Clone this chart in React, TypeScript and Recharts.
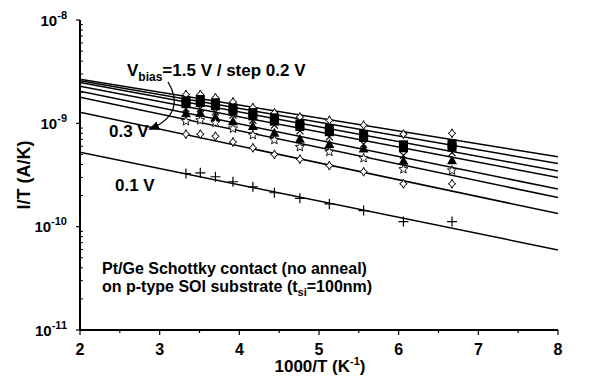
import React from 'react';
import { ComposedChart, Line, Scatter, XAxis, YAxis, Customized } from 'recharts';

// ---------- data ----------
const xTicks = [2, 2.5, 3, 3.5, 4, 4.5, 5, 5.5, 6, 6.5, 7, 7.5, 8];
const yTicks = [
  1e-11, 2e-11, 3e-11, 4e-11, 5e-11, 6e-11, 7e-11, 8e-11, 9e-11,
  1e-10, 2e-10, 3e-10, 4e-10, 5e-10, 6e-10, 7e-10, 8e-10, 9e-10,
  1e-9, 2e-9, 3e-9, 4e-9, 5e-9, 6e-9, 7e-9, 8e-9, 9e-9, 1e-8,
];
const invT = [3.33, 3.51, 3.7, 3.92, 4.17, 4.44, 4.76, 5.13, 5.56, 6.06, 6.67];

const v15 = [1.9e-9, 1.9e-9, 1.77e-9, 1.61e-9, 1.42e-9, 1.26e-9, 1.15e-9, 1.07e-9, 9.6e-10, 7.85e-10, 8.0e-10];
const v13 = [1.65e-9, 1.7e-9, 1.58e-9, 1.41e-9, 1.27e-9, 1.13e-9, 9.9e-10, 8.9e-10, 7.8e-10, 6.2e-10, 6.35e-10];
const v11 = [1.55e-9, 1.59e-9, 1.48e-9, 1.32e-9, 1.18e-9, 1.05e-9, 9.3e-10, 8.3e-10, 7.3e-10, 5.8e-10, 5.9e-10];
const v09 = [1.39e-9, 1.39e-9, 1.29e-9, 1.2e-9, 1.07e-9, 9.6e-10, 8.45e-10, 7.4e-10, 6.3e-10, 4.9e-10, 5.2e-10];
const v07 = [1.25e-9, 1.26e-9, 1.15e-9, 1.05e-9, 9.4e-10, 8.1e-10, 7.1e-10, 6.3e-10, 5.7e-10, 4.35e-10, 4.4e-10];
const v05 = [1.05e-9, 1.07e-9, 1.01e-9, 8.9e-10, 7.7e-10, 6.9e-10, 5.9e-10, 5.3e-10, 4.6e-10, 3.6e-10, 3.5e-10];
const v03 = [7.85e-10, 7.85e-10, 7.5e-10, 6.6e-10, 5.8e-10, 5.0e-10, 4.5e-10, 3.9e-10, 3.4e-10, 2.6e-10, 2.6e-10];
const v01 = [3.27e-10, 3.32e-10, 3.04e-10, 2.72e-10, 2.43e-10, 2.13e-10, 1.88e-10, 1.66e-10, 1.43e-10, 1.12e-10, 1.12e-10];

const fitX = [2, 8];
const fit15 = [2.67e-9, 4.74e-10];
const fit13 = [2.58e-9, 4.08e-10];
const fit11 = [2.49e-9, 3.45e-10];
const fit09 = [2.28e-9, 2.99e-10];
const fit07 = [2.04e-9, 2.31e-10];
const fit05 = [1.79e-9, 1.91e-10];
const fit03 = [1.28e-9, 1.34e-10];
const fit01 = [5.26e-10, 5.96e-11];

const seriesList = [
  { name: '1.5 V', pts: v15, fit: fit15, shape: 'diamond' },
  { name: '1.3 V', pts: v13, fit: fit13, shape: 'square' },
  { name: '1.1 V', pts: v11, fit: fit11, shape: 'square' },
  { name: '0.9 V', pts: v09, fit: fit09, shape: 'x' },
  { name: '0.7 V', pts: v07, fit: fit07, shape: 'triangle' },
  { name: '0.5 V', pts: v05, fit: fit05, shape: 'star' },
  { name: '0.3 V', pts: v03, fit: fit03, shape: 'diamond' },
  { name: '0.1 V', pts: v01, fit: fit01, shape: 'plus' },
];

// ---------- layout ----------
const W = 595;
const H = 380;
const FONT = '"Liberation Sans", Arial, Helvetica, sans-serif';

const isDecade = (v: number) => {
  const l = Math.log10(v);
  return Math.abs(l - Math.round(l)) < 1e-6;
};
const isInt = (v: number) => Math.abs(v - Math.round(v)) < 1e-6;

const Marker = (kind: string) => (p: any) => {
  const { cx, cy } = p;
  if (cx == null || cy == null) return <g />;
  switch (kind) {
    case 'diamond':
      return (
        <path
          d={`M${cx},${cy - 4.5} Q${cx + 1},${cy - 1} ${cx + 3.8},${cy} Q${cx + 1},${cy + 1} ${cx},${cy + 4.5} Q${cx - 1},${cy + 1} ${cx - 3.8},${cy} Q${cx - 1},${cy - 1} ${cx},${cy - 4.5}Z`}
          fill="#fff"
          stroke="#000"
          strokeWidth={1}
        />
      );
    case 'square':
      return <rect x={cx - 4.5} y={cy - 4.5} width={9} height={9} fill="#000" />;
    case 'x':
      return (
        <path d={`M${cx - 3.5},${cy - 3.5}L${cx + 3.5},${cy + 3.5}M${cx + 3.5},${cy - 3.5}L${cx - 3.5},${cy + 3.5}`} stroke="#000" strokeWidth={1.2} />
      );
    case 'triangle':
      return <path d={`M${cx},${cy - 5} L${cx + 5},${cy + 4} L${cx - 5},${cy + 4}Z`} fill="#000" />;
    case 'star': {
      const pts: string[] = [];
      for (let i = 0; i < 10; i++) {
        const r = i % 2 === 0 ? 4.8 : 2.1;
        const a = -Math.PI / 2 + (i * Math.PI) / 5;
        pts.push(`${cx + r * Math.cos(a)},${cy + r * Math.sin(a)}`);
      }
      return <polygon points={pts.join(' ')} fill="#fff" stroke="#000" strokeWidth={0.9} />;
    }
    case 'plus':
    default:
      return <path d={`M${cx - 5},${cy}L${cx + 5},${cy}M${cx},${cy - 5}L${cx},${cy + 5}`} stroke="#000" strokeWidth={1.2} />;
  }
};

const BottomTick = (p: any) => {
  const { x, y, payload } = p;
  const v = payload.value;
  const major = isInt(v);
  return (
    <g>
      <line x1={x} x2={x} y1={y} y2={y + (major ? 5 : 3)} stroke="#000" strokeWidth={1.2} />
      {major && (
        <text x={x} y={y + 25} textAnchor="middle" fontFamily={FONT} fontWeight="bold" fontSize={16} fill="#000">
          {String(v)}
        </text>
      )}
    </g>
  );
};

const TopTick = (p: any) => {
  const { x, y, payload } = p;
  const major = isInt(payload.value);
  return <line x1={x} x2={x} y1={y} y2={y - (major ? 4 : 2)} stroke="#000" strokeWidth={1.2} />;
};

const LeftTick = (p: any) => {
  const { x, y, payload } = p;
  const v = payload.value;
  const major = isDecade(v);
  const exp = Math.round(Math.log10(v));
  return (
    <g>
      {major ? (
        <line x1={x - 4} x2={x} y1={y} y2={y} stroke="#000" strokeWidth={1.2} />
      ) : (
        <line x1={x} x2={x + 3} y1={y} y2={y} stroke="#000" strokeWidth={1} />
      )}
      {major && (
        <text x={x - 13} y={y + 5.5} textAnchor="end" fontFamily={FONT} fontWeight="bold" fill="#000">
          <tspan fontSize={15}>10</tspan>
          <tspan fontSize={11} dy={-7}>{String(exp)}</tspan>
        </text>
      )}
    </g>
  );
};

const RightTick = (p: any) => {
  const { x, y, payload } = p;
  const major = isDecade(payload.value);
  return <line x1={x - 3} x2={x + (major ? 4 : 3)} y1={y} y2={y} stroke="#000" strokeWidth={1} />;
};

const Annotations = () => (
  <g fontFamily={FONT} fontWeight="bold" fill="#000">
    <defs>
      <marker id="ah" markerWidth="11" markerHeight="9" refX="9" refY="4.5" orient="auto" markerUnits="userSpaceOnUse">
        <path d="M0,0 L11,4.5 L0,9 Z" fill="#000" />
      </marker>
    </defs>
    <text x={127} y={76} fontSize={17}>
      <tspan>V</tspan>
      <tspan fontSize={12} dy={5}>bias</tspan>
      <tspan dy={-5}>=1.5 V / step 0.2 V</tspan>
    </text>
    <path d="M168,82 C179,100 177,118 150,129" fill="none" stroke="#000" strokeWidth={1.3} markerEnd="url(#ah)" />
    <text x={109} y={137} fontSize={17}>0.3 V</text>
    <text x={115} y={191} fontSize={17}>0.1 V</text>
    <text x={102} y={274} fontSize={16}>Pt/Ge Schottky contact (no anneal)</text>
    <text x={102} y={292} fontSize={16}>
      <tspan>on p-type SOI substrate (t</tspan>
      <tspan fontSize={11} dy={4}>si</tspan>
      <tspan dy={-4}>=100nm)</tspan>
    </text>
    <text x={320} y={372} fontSize={17} textAnchor="middle">
      <tspan>1000/T (K</tspan>
      <tspan fontSize={11} dy={-7}>-1</tspan>
      <tspan dy={7}>)</tspan>
    </text>
    <text x={0} y={0} fontSize={18} textAnchor="middle" transform="translate(30,175) rotate(-90)">I/T (A/K)</text>
  </g>
);

export default function App() {
  return (
    <div style={{ position: 'absolute', left: 0, top: 0, width: W, height: H, background: '#fff' }}>
      <ComposedChart width={W} height={H} margin={{ top: 20, right: 37, bottom: 0, left: 0 }}>
        <XAxis
          xAxisId="b"
          dataKey="x"
          type="number"
          domain={[2, 8]}
          ticks={xTicks}
          interval={0}
          allowDataOverflow
          height={50}
          tickSize={0}
          tickMargin={0}
          tickLine={false}
          axisLine={{ stroke: '#000', strokeWidth: 2 }}
          tick={<BottomTick />}
        />
        <XAxis
          xAxisId="t"
          orientation="top"
          dataKey="x"
          type="number"
          domain={[2, 8]}
          ticks={xTicks}
          interval={0}
          allowDataOverflow
          height={0}
          tickSize={0}
          tickMargin={0}
          tickLine={false}
          axisLine={{ stroke: '#000', strokeWidth: 2 }}
          tick={<TopTick />}
        />
        <YAxis
          yAxisId="l"
          dataKey="y"
          type="number"
          scale="log"
          domain={[1e-11, 1e-8]}
          ticks={yTicks}
          interval={0}
          allowDataOverflow
          width={80}
          tickSize={0}
          tickMargin={0}
          tickLine={false}
          axisLine={{ stroke: '#000', strokeWidth: 2 }}
          tick={<LeftTick />}
        />
        <YAxis
          yAxisId="r"
          orientation="right"
          dataKey="y"
          type="number"
          scale="log"
          domain={[1e-11, 1e-8]}
          ticks={yTicks}
          interval={0}
          allowDataOverflow
          width={0}
          tickSize={0}
          tickMargin={0}
          tickLine={false}
          axisLine={{ stroke: '#000', strokeWidth: 2 }}
          tick={<RightTick />}
        />
        {seriesList.map((s) => (
          <Line
            key={'fit' + s.name}
            xAxisId="b"
            yAxisId="l"
            data={fitX.map((x, i) => ({ x, y: s.fit[i] }))}
            dataKey="y"
            type="linear"
            dot={false}
            activeDot={false}
            stroke="#000"
            strokeWidth={1.5}
            isAnimationActive={false}
          />
        ))}
        {seriesList.map((s) => (
          <Scatter
            key={'pts' + s.name}
            xAxisId="b"
            yAxisId="l"
            data={invT.map((x, i) => ({ x, y: s.pts[i] }))}
            dataKey="y"
            shape={Marker(s.shape)}
            isAnimationActive={false}
          />
        ))}
        <Customized component={Annotations} />
      </ComposedChart>
    </div>
  );
}
